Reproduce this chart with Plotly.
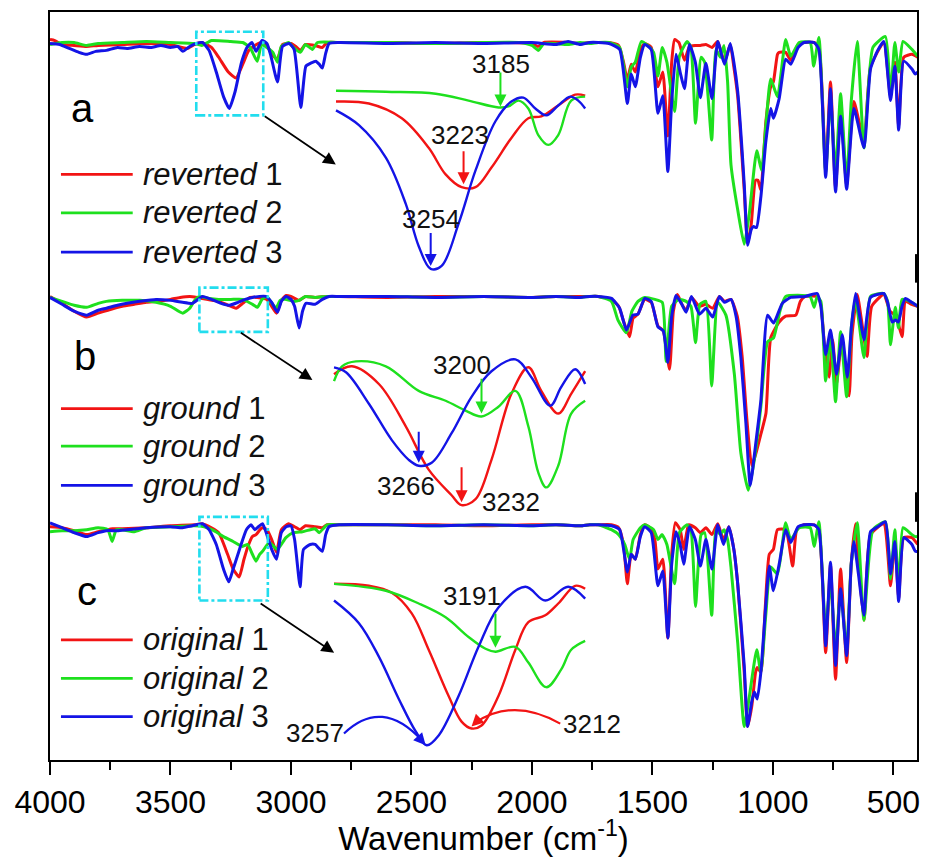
import plotly.graph_objects as go

# ---------------- main spectra (wavenumber cm-1, relative transmittance a.u.) -------------
# panel a : reverted
a_red_wn = [4000,3980,3950,3900,3848,3800,3700,3600,3500,3470,3430,3400,3370,3330,3300,3260,3228,3200,3175,3150,3121,3100,3080,3057,3035,3000,2980,2961,2940,2900,2870,2850,2800,2600,2400,2200,2000,1975,1950,1850,1800,1760,
            1725,1680,1640,1620,1604,1588,1571,1550,1532,1505,1477,1457,1436,1420,1408,1390,1367,1346,1322,1301,1278,1253,1229,1201,1177,1162,1146,1119,1105,1090,1072,1062,1050,1029,1009,998,981,974,947,926,895,871,829,809,781,761,740,719,694,664,622,595,540,512,494,478,457,423,399]
a_red_val = [3,2,-2,-3,-4,-3,-2,-1,-2,-4,-6,-2,0,-5,-15,-30,-36,-22,-8,-3,0,-3,-12,-17,-2,-1,-4,-8,-2,-3,-5,0,0,0,-1,0,-1,-4,0,0,-1,0,
             0,0,-3,-20,-38,-22,-30,-8,-1,-5,-45,-30,-95,-20,3,0,-18,-4,-3,-3,-2,-5,1,-20,-2,-25,-55,-150,-204,-185,-140,-140,-150,-80,-45,-40,-12,-10,-10,-18,-2,0,0,-5,-130,-40,-148,-65,-145,-60,-100,-25,0,-55,-20,-85,-15,-12,-15]
a_green_wn = [4000,3950,3900,3848,3800,3700,3600,3500,3400,3370,3330,3250,3200,3170,3140,3122,3100,3075,3056,3040,3010,2990,2961,2940,2911,2890,2800,2600,2400,2200,2050,2000,1973,1950,1850,1800,1760,
              1725,1680,1636,1604,1588,1571,1546,1520,1495,1477,1459,1440,1408,1388,1356,1340,1321,1298,1283,1254,1236,1218,1203,1188,1174,1146,1119,1098,1067,1047,1029,1009,981,947,926,891,845,831,809,781,761,740,719,694,675,650,622,585,533,512,494,478,460,423,399]
a_green_val = [-2,0,0,-3,-1,0,1,0,-1,-3,2,1,0,-5,-19,-2,-5,-10,-20,-4,0,-5,-10,-2,-7,0,0,0,-1,0,0,-3,-8,-1,-2,0,-1,
               0,0,-5,-45,-25,-20,1,-3,-10,-34,-5,-20,-70,-14,1,-5,-82,-15,-20,-99,-7,-15,-3,-40,-124,-170,-205,-174,-110,-130,-84,-37,-55,3,-14,0,0,-24,5,-132,-57,-132,-52,-142,-60,1,-107,-5,6,-54,0,-30,1,-7,-14]
a_blue_wn = [4000,3960,3920,3880,3848,3810,3766,3720,3680,3628,3580,3540,3500,3470,3449,3420,3393,3367,3340,3310,3280,3256,3232,3205,3180,3162,3145,3120,3100,3085,3056,3035,3007,2987,2959,2938,2918,2897,2883,2870,2856,2842,2800,2600,2400,2200,2000,1900,1850,1800,1760,
             1725,1680,1636,1604,1588,1571,1550,1532,1505,1477,1457,1436,1420,1402,1385,1367,1346,1322,1301,1278,1253,1229,1201,1177,1162,1146,1119,1105,1090,1080,1068,1050,1029,1009,998,974,947,926,895,871,829,809,781,761,740,719,694,664,622,595,565,540,512,494,478,457,423,409,399]
a_blue_val = [-1,-2,-6,-10,-12,-9,-8,-5,-6,-4,-5,-3,-5,-4,-9,-4,-1,0,-8,-30,-55,-67,-50,-20,-4,0,-9,2,-1,-12,-40,-4,-1,-7,-66,-24,-21,-19,-22,-26,-11,-1,0,-1,0,-1,0,-2,1,-2,0,
              0,-1,-7,-62,-32,-45,-15,-2,-7,-72,-54,-131,-60,-12,-30,-47,-2,-20,-56,-21,-57,1,-22,-1,-20,-50,-144,-206,-190,-187,-188,-157,-100,-67,-77,-57,-17,-22,-5,0,0,-7,-137,-47,-152,-75,-149,-67,-107,-27,-8,1,-59,-24,-89,-19,-27,-32,-30]

# panel b : ground
b_red_wn = [4000,3950,3900,3848,3800,3760,3700,3650,3600,3550,3500,3460,3420,3390,3350,3300,3260,3228,3200,3170,3140,3100,3080,3060,3040,3020,3000,2966,2940,2900,2850,2800,2600,2400,2200,2000,1900,1800,1760,
            1725,1670,1640,1620,1595,1580,1560,1532,1505,1477,1455,1429,1413,1396,1378,1360,1338,1305,1278,1250,1222,1201,1174,1148,1128,1108,1088,1071,1050,1029,1009,974,947,905,886,866,816,801,786,767,752,736,716,684,672,650,629,609,590,540,514,489,464,450,424,399]
b_red_val = [0,-7,-15,-21,-17,-14,-10,-8,-6,-5,-3,-1,0,-1,-3,-5,-9,-12,-7,-1,-1,-3,-10,-17,-4,1,0,-4,0,-1,0,0,-1,0,0,-1,0,0,0,
             0,-3,-10,-25,-41,-22,-18,-3,-6,-30,-35,-74,-15,2,-8,-14,-1,-10,-8,-12,0,-5,-3,-20,-60,-125,-172,-160,-140,-119,-42,-26,-20,-19,-5,0,0,-8,-50,-82,-44,-89,-49,-101,-40,2,-30,-61,-10,2,-15,-20,-41,-5,-8,-10]
b_green_wn = [4000,3950,3900,3848,3800,3766,3700,3628,3560,3500,3449,3420,3400,3380,3340,3300,3250,3200,3160,3139,3120,3100,3085,3062,3045,3020,2990,2966,2940,2900,2850,2800,2600,2400,2200,2000,1900,1800,1760,
              1725,1670,1643,1608,1585,1560,1532,1490,1459,1443,1420,1390,1360,1340,1321,1303,1278,1254,1229,1195,1160,1133,1102,1077,1050,1022,997,971,947,846,829,816,801,781,761,740,719,694,674,657,622,595,540,524,512,492,479,464,424,399]
b_green_val = [-1,-5,-9,-11,-7,-5,-4,-4,-6,-10,-17,-12,-4,0,-2,-3,-3,-3,-8,-11,-3,0,-5,-12,-4,-3,-5,-4,0,-1,0,0,0,-1,0,-1,0,-1,0,
               0,-5,-24,-37,-15,-5,-1,-3,-6,-66,-10,-3,-5,-10,-47,-8,-5,-91,-6,-19,-79,-159,-197,-166,-112,-46,-42,-15,0,0,-11,0,-5,-86,-40,-107,-36,-102,-30,-3,-62,0,3,-5,-49,-11,-32,-3,-6,-10]
b_blue_wn = [4000,3950,3900,3848,3800,3766,3720,3680,3628,3560,3500,3450,3409,3367,3330,3290,3256,3220,3190,3160,3104,3080,3056,3040,3021,3000,2985,2966,2952,2938,2900,2870,2842,2800,2600,2400,2200,2000,1900,1800,1760,
             1725,1670,1636,1608,1581,1560,1532,1505,1477,1455,1436,1420,1402,1378,1360,1338,1305,1278,1250,1222,1201,1174,1153,1133,1112,1094,1071,1050,1022,997,961,926,866,816,801,781,761,736,712,691,674,657,640,622,595,540,524,505,491,479,464,450,424,399]
b_blue_val = [-1,-8,-15,-19,-14,-12,-9,-7,-5,-3,-4,-6,-7,0,-3,-7,-9,-6,-3,-1,0,-6,-16,-5,0,-3,-10,-32,-15,-7,-8,-3,0,0,0,-1,0,-1,0,-1,0,
              0,-2,-12,-34,-19,-18,-2,-5,-31,-35,-67,-20,1,-8,-16,0,-18,-12,-21,0,-6,-3,-20,-62,-129,-192,-149,-106,-19,-27,-7,-1,0,3,-10,-59,-34,-79,-39,-82,-30,3,-20,-44,-1,3,-6,-26,-24,-26,-10,-2,-6,-10]

# panel c : original
c_red_wn = [4000,3950,3900,3848,3800,3740,3700,3600,3500,3400,3370,3330,3300,3263,3240,3215,3195,3180,3160,3145,3120,3100,3080,3060,3040,3010,2985,2962,2940,2900,2870,2850,2800,2600,2400,2200,2000,1900,1800,1760,
            1725,1670,1640,1620,1604,1588,1571,1550,1532,1510,1490,1477,1457,1436,1420,1405,1385,1370,1350,1322,1301,1278,1253,1229,1205,1183,1162,1146,1119,1105,1088,1072,1065,1050,1032,1015,998,981,947,918,901,871,829,809,781,761,740,719,694,675,657,645,622,595,540,512,494,478,457,423,399]
c_red_val = [-2,-3,-6,-10,-7,-4,-4,-3,-1,0,1,-3,-8,-30,-45,-53,-35,-23,-12,-10,-3,-5,-15,-28,-5,1,-2,-5,-1,-2,-3,0,0,0,0,-1,0,0,-1,0,
             0,0,-3,-20,-60,-30,-35,-10,0,-3,-15,-45,-35,-115,-30,2,-5,-25,0,-3,-8,-3,-10,1,-15,-2,-25,-60,-150,-205,-185,-150,-145,-150,-85,-30,-25,-5,-5,-42,-5,0,0,-5,-130,-40,-157,-45,-140,-40,1,-40,-97,-10,1,-62,-17,-75,-13,-13,-20]
c_green_wn = [4000,3950,3900,3848,3800,3760,3742,3725,3700,3650,3600,3500,3400,3360,3320,3280,3240,3201,3180,3160,3145,3130,3118,3090,3056,3021,2990,2952,2920,2900,2883,2850,2800,2600,2400,2200,2000,1900,1800,1760,
              1725,1690,1670,1640,1615,1595,1580,1550,1532,1495,1477,1460,1440,1408,1388,1356,1340,1321,1298,1283,1254,1236,1218,1203,1188,1174,1146,1119,1098,1067,1050,1029,1009,981,947,926,891,845,829,809,781,761,740,719,694,675,650,622,585,533,512,494,478,460,423,409,399]
c_green_val = [-7,-6,-6,-5,-3,-5,-17,-5,-5,-7,-3,-2,-1,-2,-6,-12,-17,-22,-20,-30,-37,-30,-27,-18,-25,-13,-8,-7,-5,-4,-8,0,0,0,-1,0,-1,0,-1,0,
               0,-3,-5,-10,-20,-35,-15,-3,0,-5,-15,-10,-20,-60,-8,0,-5,-83,-10,-8,-92,-5,-10,-5,-15,-43,-120,-205,-175,-127,-150,-90,-43,-50,2,-15,-3,-3,-22,3,-107,-57,-127,-67,-127,-40,2,-97,-5,3,-55,-5,-67,-3,-10,-12,-12]
c_blue_wn = [4000,3950,3900,3848,3800,3766,3720,3680,3640,3600,3500,3450,3410,3367,3340,3310,3280,3258,3240,3220,3207,3185,3166,3150,3135,3118,3100,3080,3060,3040,3020,3000,2985,2962,2948,2920,2900,2870,2856,2842,2800,2600,2400,2200,2000,1900,1800,1760,
             1725,1670,1636,1604,1588,1571,1550,1532,1505,1477,1457,1436,1420,1402,1385,1370,1346,1322,1301,1278,1253,1229,1205,1183,1162,1146,1119,1105,1088,1077,1065,1050,1032,1015,998,974,947,926,895,871,829,809,781,761,740,719,694,675,664,645,622,595,565,533,512,494,478,457,423,409,399]
c_blue_val = [2,-3,-8,-12,-8,-6,-6,-5,-4,-3,-2,-3,-1,1,-5,-20,-45,-58,-45,-30,-20,-5,0,-5,-2,1,-10,-25,-35,-8,-2,-1,-15,-63,-25,-20,-20,-27,-10,-2,0,0,-1,0,-1,0,-1,0,
              0,-1,-5,-48,-30,-35,-12,-2,-8,-62,-47,-115,-40,-7,-20,-40,-2,-15,-42,-15,-45,0,-20,-2,-25,-60,-143,-205,-180,-170,-177,-150,-90,-42,-67,-40,-5,-18,-2,0,0,-5,-123,-38,-143,-65,-133,-40,-17,-50,-92,-7,-2,3,-50,-17,-78,-13,-20,-27,-27]

panel_offsets = {"a": 729, "b": 471, "c": 239}

# ---------------- inset spectra (3350-3100 cm-1, a.u.) -----------------
ia_green_wn = [3348,3298,3248,3215,3185,3175,3165,3155,3145,3135,3125,3112,3098]
ia_green_val = [193,192,190,183,176,177,183,175,148,138,148,183,187]
ia_red_wn = [3348,3315,3282,3255,3238,3222,3208,3192,3172,3155,3142,3125,3108,3098]
ia_red_val = [182,180,165,135,108,95,95,115,145,165,167,178,189,188]
ia_blue_wn = [3348,3325,3298,3278,3265,3253,3242,3225,3208,3188,3172,3160,3148,3137,3125,3113,3105,3098]
ia_blue_val = [173,158,125,78,35,12,15,58,112,162,182,186,175,168,178,187,183,175]

ib_green_wn = [3350,3342,3328,3298,3265,3238,3218,3202,3185,3168,3155,3145,3137,3125,3112,3098]
ib_green_val = [143,158,163,158,133,123,113,107,117,133,97,50,35,57,110,123]
ib_red_wn = [3350,3332,3305,3278,3255,3232,3222,3208,3192,3172,3155,3142,3125,3112,3098]
ib_red_val = [150,158,140,97,53,27,17,23,63,130,157,133,110,130,153]
ib_blue_wn = [3350,3338,3315,3292,3275,3265,3252,3232,3212,3192,3168,3152,3133,3122,3108,3098]
ib_blue_val = [157,152,120,83,63,57,60,90,127,153,165,147,118,137,155,140]

ic_green_wn = [3350,3298,3265,3238,3215,3198,3188,3168,3155,3137,3122,3112,3098]
ic_green_val = [177,170,157,143,123,111,108,113,97,72,90,110,119]
ic_red_wn = [3350,3315,3292,3272,3255,3235,3222,3212,3202,3185,3168,3155,3138,3125,3108,3098]
ic_red_val = [177,175,168,147,110,63,37,30,33,63,110,138,145,157,175,172]
ic_blue_wn = [3350,3325,3305,3285,3268,3257,3245,3225,3205,3185,3158,3138,3115,3098]
ic_blue_val = [160,137,103,60,27,13,23,63,113,153,174,160,174,162]

# peak labels: (text, x, y, arrow tail y, arrow tip y, arrow x, colour key)
ia_peaks = [("3185", 3182, 220, 213, 177, 3183, "green"),
            ("3223", 3224, 148, 133, 98, 3220, "red"),
            ("3254", 3253, 63, 50, 15, 3253, "blue")]
ib_peaks = [("3200", 3222, 159, 147, 110, 3202, "green"),
            ("3266", 3278, 36, 93, 60, 3265, "blue"),
            ("3232", 3172, 20, 57, 20, 3222, "red")]
ic_peaks = [("3191", 3212, 165, 148, 112, 3188, "green")]

legend_a = ["reverted 1", "reverted 2", "reverted 3"]
legend_b = ["ground 1", "ground 2", "ground 3"]
legend_c = ["original 1", "original 2", "original 3"]

x_ticks = [4000, 3500, 3000, 2500, 2000, 1500, 1000, 500]
x_minor = [3750, 3250, 2750, 2250, 1750, 1250, 750]

# ---------------- styling -----------------
COL = {"red": "#F21414", "green": "#1EE01E", "blue": "#1414E6"}
CYAN = "#22DDEE"
FONT = "Liberation Sans, Arial, sans-serif"

fig = go.Figure()

main_sets = [
    ("a", [(a_red_wn, a_red_val, "red"), (a_green_wn, a_green_val, "green"), (a_blue_wn, a_blue_val, "blue")]),
    ("b", [(b_red_wn, b_red_val, "red"), (b_green_wn, b_green_val, "green"), (b_blue_wn, b_blue_val, "blue")]),
    ("c", [(c_red_wn, c_red_val, "red"), (c_green_wn, c_green_val, "green"), (c_blue_wn, c_blue_val, "blue")]),
]
for key, series in main_sets:
    off = panel_offsets[key]
    for wn, val, c in series:
        fig.add_trace(go.Scatter(x=wn, y=[off + v for v in val], mode="lines",
                                 line=dict(color=COL[c], width=3, shape="spline", smoothing=0.5),
                                 xaxis="x", yaxis="y", showlegend=False, hoverinfo="skip"))

inset_sets = [
    ("2", [(ia_red_wn, ia_red_val, "red"), (ia_green_wn, ia_green_val, "green"), (ia_blue_wn, ia_blue_val, "blue")]),
    ("3", [(ib_red_wn, ib_red_val, "red"), (ib_green_wn, ib_green_val, "green"), (ib_blue_wn, ib_blue_val, "blue")]),
    ("4", [(ic_red_wn, ic_red_val, "red"), (ic_green_wn, ic_green_val, "green"), (ic_blue_wn, ic_blue_val, "blue")]),
]
for n, series in inset_sets:
    for wn, val, c in series:
        fig.add_trace(go.Scatter(x=wn, y=val, mode="lines",
                                 line=dict(color=COL[c], width=2.4, shape="spline", smoothing=1.0),
                                 xaxis="x" + n, yaxis="y" + n, showlegend=False, hoverinfo="skip"))

# plot area geometry (px): x 50..920, y 12..772
W, H = 928, 857
L, R, T, B = 50, 8, 12, 85
pw, ph = W - L - R, H - T - B


def px2p(px):
    return (px - L) / pw


def py2p(py):
    return (H - B - py) / ph


inset_x_dom = [px2p(280), px2p(640)]
inset_x_rng = [3405, 3045]
inset_y_doms = {"2": [py2p(285), py2p(55)], "3": [py2p(530), py2p(300)], "4": [py2p(770), py2p(540)]}

layout = dict(
    width=W, height=H, margin=dict(l=L, r=R, t=T, b=B),
    paper_bgcolor="white", plot_bgcolor="rgba(0,0,0,0)",
    font=dict(family=FONT, color="black"),
    showlegend=False,
    xaxis=dict(range=[4000, 402], domain=[0, 1], showgrid=False, zeroline=False,
               showline=True, linecolor="black", linewidth=2, mirror=True,
               ticks="outside", ticklen=13, tickwidth=2, tickcolor="black",
               tickvals=x_ticks, ticktext=[str(t) for t in x_ticks],
               tickfont=dict(size=32, family=FONT, color="black"),
               minor=dict(tickvals=x_minor, ticks="outside", ticklen=8, tickwidth=2, tickcolor="black"),
               title=dict(text="Wavenumber (cm<sup>-1</sup>)", font=dict(size=33, family=FONT), standoff=5)),
    yaxis=dict(range=[0, 760], domain=[0, 1], showgrid=False, zeroline=False,
               showline=True, linecolor="black", linewidth=2, mirror=True,
               showticklabels=False, ticks=""),
)
for n in ["2", "3", "4"]:
    layout["xaxis" + n] = dict(domain=inset_x_dom, range=inset_x_rng, visible=False, anchor="y" + n)
    layout["yaxis" + n] = dict(domain=inset_y_doms[n], range=[0, 230], visible=False, anchor="x" + n)
fig.update_layout(**layout)

shapes = []
annotations = []

# dash-dot zoom boxes (main data coords)
boxes = [(3393, 3115, 655, 740), (3380, 3096, 435, 480), (3380, 3096, 162, 247)]
for x0, x1, y0, y1 in boxes:
    shapes.append(dict(type="rect", xref="x", yref="y", x0=x0, x1=x1, y0=y0, y1=y1,
                       line=dict(color=CYAN, width=2.6, dash="dashdot")))

# black arrows from boxes to insets (tail -> head)
arrows = [((3115, 655), (2814, 605)), ((3214, 435), (2911, 386)), ((3132, 160), (2821, 109))]
for (tx, ty), (hx, hy) in arrows:
    annotations.append(dict(x=hx, y=hy, ax=tx, ay=ty, xref="x", yref="y", axref="x", ayref="y",
                            text="", showarrow=True, arrowhead=2, arrowsize=1.4, arrowwidth=1.8,
                            arrowcolor="black", standoff=0))

# panel letters
for lab, px, py in [("a", 83, 110), ("b", 85, 362), ("c", 87, 600)]:
    annotations.append(dict(x=px2p(px), y=py2p(py), xref="paper", yref="paper", text=lab,
                            showarrow=False, font=dict(size=40, family=FONT, color="black"),
                            xanchor="center", yanchor="middle"))

# custom legends
for labels, rows in [(legend_a, [177, 216, 256]), (legend_b, [415, 453, 493]), (legend_c, [650, 689, 728])]:
    for lab, py, c in zip(labels, rows, ["red", "green", "blue"]):
        word, num = lab.rsplit(" ", 1)
        shapes.append(dict(type="line", xref="paper", yref="paper", x0=px2p(61), x1=px2p(133),
                           y0=py2p(py), y1=py2p(py), line=dict(color=COL[c], width=2.8)))
        annotations.append(dict(x=px2p(141), y=py2p(py), xref="paper", yref="paper",
                                text="<i>" + word + "</i> " + num, showarrow=False,
                                xanchor="left", yanchor="middle",
                                font=dict(size=31, family=FONT, color="#111")))

# inset peak labels and arrows
for n, peaks in [("2", ia_peaks), ("3", ib_peaks), ("4", ic_peaks)]:
    for txt, tx, ty, atail, atip, ax_, c in peaks:
        annotations.append(dict(x=tx, y=ty, xref="x" + n, yref="y" + n, text=txt, showarrow=False,
                                font=dict(size=26, family=FONT, color="#111"),
                                xanchor="center", yanchor="middle"))
        annotations.append(dict(x=ax_, y=atip, ax=ax_, ay=atail, xref="x" + n, yref="y" + n,
                                axref="x" + n, ayref="y" + n, text="", showarrow=True,
                                arrowhead=2, arrowsize=1.2, arrowwidth=2, arrowcolor=COL[c], standoff=0))

# inset c: curved pointers for 3257 and 3212
annotations.append(dict(x=3369, y=25, xref="x4", yref="y4", text="3257", showarrow=False,
                        font=dict(size=26, family=FONT, color="#111")))
annotations.append(dict(x=3091, y=35, xref="x4", yref="y4", text="3212", showarrow=False,
                        font=dict(size=26, family=FONT, color="#111")))
shapes.append(dict(type="path", xref="x4", yref="y4",
                   path="M 3340,25 Q 3302,62 3262,18", line=dict(color=COL["blue"], width=2.2)))
annotations.append(dict(x=3258, y=13, ax=3266, ay=22, xref="x4", yref="y4", axref="x4", ayref="y4",
                        text="", showarrow=True, arrowhead=2, arrowsize=1.2, arrowwidth=2,
                        arrowcolor=COL["blue"], standoff=0))
shapes.append(dict(type="path", xref="x4", yref="y4",
                   path="M 3123,35 Q 3170,62 3208,36", line=dict(color=COL["red"], width=2.2)))
annotations.append(dict(x=3212, y=32, ax=3204, ay=40, xref="x4", yref="y4", axref="x4", ayref="y4",
                        text="", showarrow=True, arrowhead=2, arrowsize=1.2, arrowwidth=2,
                        arrowcolor=COL["red"], standoff=0))

# thick marks on right frame
for y0, y1 in [(287, 258), (530, 500)]:
    shapes.append(dict(type="line", xref="paper", yref="paper", x0=1, x1=1, y0=py2p(y0), y1=py2p(y1),
                       line=dict(color="black", width=4)))

fig.update_layout(shapes=shapes, annotations=annotations)
fig.write_html("out.html")
